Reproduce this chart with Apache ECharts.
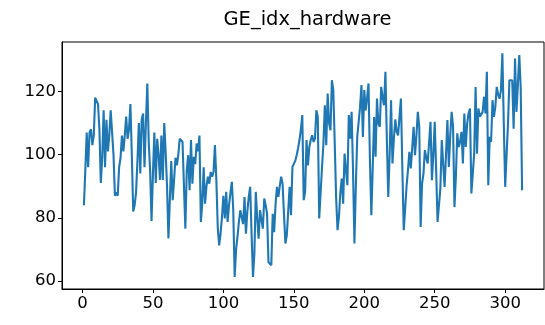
<!DOCTYPE html>
<html>
<head>
<meta charset="utf-8">
<script src="https://cdn.jsdelivr.net/npm/echarts@6/dist/echarts.min.js"></script>
<style>
  html, body { margin: 0; padding: 0; background: #fff; }
  #chart { width: 545px; height: 325px; }
</style>
</head>
<body>
<div id="chart"></div>
<script>
// values, index 1..312
const values = [
  84, 95, 107, 96, 107, 108, 103, 106, 118, 117,
  116, 108, 91, 99, 114, 96, 111, 101, 106, 114,
  114, 100, 87, 88, 87, 96, 99, 106, 101, 106,
  112, 105, 108, 116, 100, 82, 84, 88, 98, 110,
  94, 111, 113, 96, 110, 122.5, 104, 95, 79, 94,
  107, 91, 105, 100, 92, 106, 92, 110, 101, 90,
  73.5, 86, 98, 85.6, 92, 99, 96.6, 100, 105, 105,
  104, 103.5, 76.6, 95, 99.8, 88.7, 104.6, 90.8, 99.3, 97,
  103.5, 101, 106, 78.7, 84.5, 96, 84.5, 90, 93, 90.8,
  94.5, 93, 94.5, 103, 92, 77, 71.3, 75, 80.3, 87,
  79.8, 88.2, 78.7, 84, 88, 91.4, 82.4, 61.3, 70, 74,
  78.7, 82.4, 82, 78, 86.6, 75, 82, 86.6, 89.8, 75,
  61.3, 68.7, 88.2, 80, 73.4, 82.4, 82.9, 76.6, 86.1, 84,
  81.3, 66, 65.5, 65, 81.3, 75.5, 84, 89.8, 86.6, 90,
  93, 90.8, 91.4, 71.9, 74.5, 82, 89.8, 80.8, 96.1, 96.6,
  98, 99.8, 102, 104.6, 108, 112.5, 85.6, 88.2, 104.6, 96.6,
  102.4, 104.6, 106.1, 104, 105.1, 114, 111.9, 79.8, 88, 96,
  103.5, 115.6, 103, 119.3, 110, 107.7, 123.5, 120.4, 104, 86.6,
  76.1, 80.3, 88, 92.4, 84.5, 100.3, 95, 90.3, 112.5, 105,
  113.5, 95, 71.9, 90, 105.6, 106.1, 115, 122, 105.6, 120.4,
  114, 118, 122.5, 98.2, 80.8, 96, 111.9, 99.3, 117.7, 109.8,
  108.8, 121.4, 118, 115.6, 126.2, 105, 86.6, 100, 117.2, 97.2,
  105, 111.1, 107.2, 106.1, 112, 117.7, 96, 76.1, 82.9, 90,
  95.1, 100.9, 95.6, 102, 108.8, 99.8, 106, 113.5, 108.8, 77.1,
  90.8, 94, 101.4, 99, 97.2, 96.6, 110.4, 91.9, 100, 110.4,
  95, 78.7, 84, 89.3, 104.6, 97, 89.8, 100, 110.9, 96.1,
  106, 113.5, 108.8, 83.4, 93, 106.7, 102.4, 104, 107.2, 97.2,
  113, 102.4, 109.8, 113, 114.6, 87.7, 94, 100.3, 121.4, 100.3,
  114.6, 112, 111.9, 113.5, 118.3, 113, 126.2, 90.3, 105.6, 104,
  117.2, 111.9, 115, 121.4, 119, 117.7, 120.4, 132, 110, 89.8,
  100, 109.8, 123.5, 123.5, 123.5, 108.2, 130.4, 113.5, 122, 131.5,
  121.4, 88.7
];
const xTicks = [0, 50, 100, 150, 200, 250, 300];
const yTicks = [60, 80, 100, 120];

const points = values.map((v, i) => [i + 1, v]);

const chart = echarts.init(document.getElementById('chart'));
chart.setOption({
  animation: false,
  title: {
    text: 'GE_idx_hardware',
    left: 302.5,
    textAlign: 'center',
    top: 5,
    textStyle: { fontFamily: 'DejaVu Sans', fontSize: 19.5, fontWeight: 'normal', color: '#000' }
  },
  grid: {
    left: 62, right: 1, top: 42, bottom: 36,
    show: true, borderColor: '#000', borderWidth: 1
  },
  xAxis: {
    type: 'value',
    min: -14.55, max: 327.55,
    splitLine: { show: false },
    axisLine: { onZero: false, lineStyle: { color: '#000' } },
    axisTick: { show: true, length: 4, customValues: xTicks, lineStyle: { color: '#000' } },
    axisLabel: { customValues: xTicks, color: '#000', fontFamily: 'DejaVu Sans', fontSize: 16.5, margin: 6 }
  },
  yAxis: {
    type: 'value',
    min: 57.5, max: 135.6,
    splitLine: { show: false },
    axisLine: { show: true, onZero: false, lineStyle: { color: '#000' } },
    axisTick: { show: true, length: 4, customValues: yTicks, lineStyle: { color: '#000' } },
    axisLabel: { customValues: yTicks, color: '#000', fontFamily: 'DejaVu Sans', fontSize: 16.5, margin: 6 }
  },
  series: [{
    type: 'line',
    data: points,
    showSymbol: false,
    lineStyle: { color: '#1f77b4', width: 2.1 },
    itemStyle: { color: '#1f77b4' }
  }]
});
</script>
</body>
</html>
